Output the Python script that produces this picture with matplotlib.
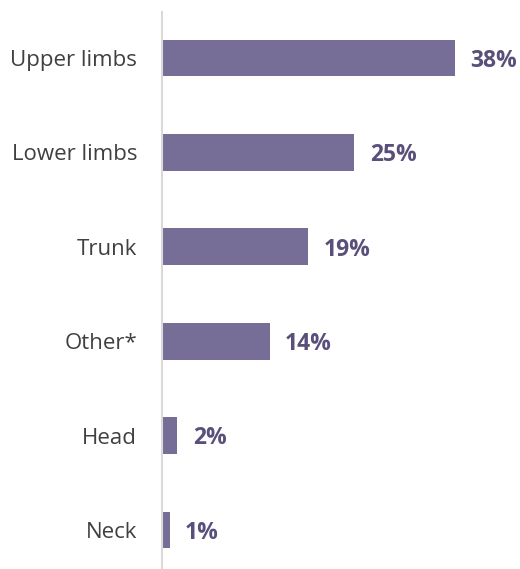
import matplotlib.pyplot as plt

plt.rcParams['font.family'] = ['Open Sans', 'DejaVu Sans']

parts = ['Upper limbs', 'Lower limbs', 'Trunk', 'Other*', 'Head', 'Neck']
shares = [38, 25, 19, 14, 2, 1]

bar_col = '#766e96'
val_col = '#594f7a'

fig = plt.figure(figsize=(5.2, 5.69), dpi=100)
ax = fig.add_axes([162 / 520, 0, 358 / 520, 557 / 569])

ypos = list(range(len(parts)))
ax.barh(ypos, shares, height=0.39, color=bar_col)

for y, v in zip(ypos, shares):
    ax.text(v + 2.0, y + 0.03, f'{v}%', va='center', ha='left',
            fontsize=16.5, fontweight='bold', color=val_col)

ax.set_xlim(0, 46.5)
ax.set_ylim(5.413, -0.487)
ax.set_yticks(ypos)
ax.set_yticklabels(parts, fontsize=16, color='#404040')
ax.tick_params(axis='y', length=0, pad=18)
ax.set_xticks([])

for side in ['top', 'right', 'bottom']:
    ax.spines[side].set_visible(False)
ax.spines['left'].set_color('#d9d9d9')
ax.spines['left'].set_linewidth(1.5)

fig.savefig('out.png', dpi=100)
